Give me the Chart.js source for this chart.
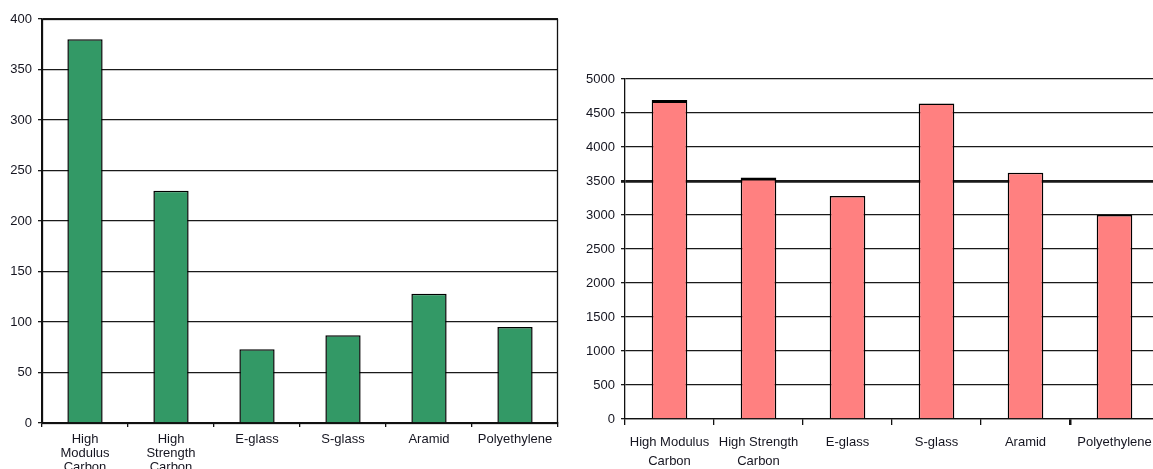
<!DOCTYPE html>
<html>
<head>
<meta charset="utf-8">
<script src="https://cdn.jsdelivr.net/npm/chart.js@4.4.0/dist/chart.umd.min.js"></script>
<style>
  html, body { margin: 0; padding: 0; background: #fff; overflow: hidden; width: 1153px; height: 469px; }
  .box { position: absolute; top: 0; }
  #leftBox { left: 0; width: 560px; height: 469px; }
  #rightBox { left: 570px; width: 590px; height: 469px; }
</style>
</head>
<body>
<div class="box" id="leftBox"><canvas id="modulusChart" width="560" height="469"></canvas></div>
<div class="box" id="rightBox"><canvas id="strengthChart" width="590" height="469"></canvas></div>
<script>
// Fibre types and their properties
const modulusCategories = [
  ['High', 'Modulus', 'Carbon'],
  ['High', 'Strength', 'Carbon'],
  'E-glass',
  'S-glass',
  'Aramid',
  'Polyethylene'
];
const strengthCategories = [
  ['High Modulus', 'Carbon'],
  ['High Strength', 'Carbon'],
  'E-glass',
  'S-glass',
  'Aramid',
  'Polyethylene'
];
// Tensile modulus (GPa)
const modulusValues = [380, 230, 73, 87, 128, 95];
// Tensile strength (MPa)
const strengthValues = [4690, 3550, 3280, 4640, 3620, 3000];

const modulusAxis = { min: 0, max: 400, step: 50 };
const strengthAxis = { min: 0, max: 5000, step: 500 };

const FONT = 'Liberation Sans, Arial, sans-serif';
const GRID = '#1a1a1a';
const INK = '#111';

// Frame drawn round the plot area
const frame = {
  id: 'frame',
  afterDraw(chart, args, opts) {
    if (!opts.draw) return;
    const a = chart.chartArea, c = chart.ctx;
    c.save();
    c.strokeStyle = INK;
    c.lineWidth = 1.3;
    c.strokeRect(a.left + 0.5, a.top + 0.5, a.right - a.left - 1, a.bottom - a.top);
    c.restore();
  }
};

function makeChart(id, labels, values, axis, color, cfg) {
  return new Chart(document.getElementById(id), {
    type: 'bar',
    data: {
      labels: labels,
      datasets: [{
        data: values,
        backgroundColor: color,
        borderColor: '#000',
        borderWidth: cfg.borderWidth,
        borderSkipped: 'start',
        categoryPercentage: 1,
        barPercentage: cfg.barPct
      }]
    },
    options: {
      responsive: false,
      animation: false,
      devicePixelRatio: 1,
      layout: { padding: { top: cfg.top, right: cfg.right, left: 0, bottom: 0 } },
      plugins: { legend: { display: false }, tooltip: { enabled: false }, frame: { draw: cfg.frame } },
      scales: {
        x: {
          afterFit(s) { s.height = cfg.xHeight; },
          border: { color: INK, width: 1.3 },
          grid: { offset: true, drawOnChartArea: false, drawTicks: true, tickLength: cfg.xTick, color: INK,
                  lineWidth: cfg.xTickWidth },
          ticks: {
            autoSkip: false, maxRotation: 0, minRotation: 0, padding: cfg.xPad,
            color: '#151520',
            font: { family: FONT, size: 13, lineHeight: cfg.lineHeight }
          }
        },
        y: {
          min: axis.min, max: axis.max,
          afterFit(s) { s.width = cfg.yWidth; },
          border: { color: INK, width: 1.3 },
          grid: { color: GRID, lineWidth: cfg.gridWidth, tickLength: 4, drawTicks: true },
          ticks: {
            stepSize: axis.step, padding: 6, color: '#151520',
            font: { family: FONT, size: 13 },
            callback: (v) => String(v)
          }
        }
      }
    },
    plugins: [frame]
  });
}

makeChart('modulusChart', modulusCategories, modulusValues, modulusAxis, '#339966', {
  top: 19, right: 2, xHeight: 46, yWidth: 42, xTick: 4, xPad: 5, lineHeight: 1.08,
  barPct: 0.41, borderWidth: 1.5, gridWidth: 1.3, frame: true, xTickWidth: 1.3
});

makeChart('strengthChart', strengthCategories, strengthValues, strengthAxis, '#ff8080', {
  top: 79, right: 1, xHeight: 50, yWidth: 55, xTick: 6, xPad: 8, lineHeight: 1.45,
  barPct: 0.4,
  borderWidth: (ctx) => ctx.dataIndex < 2 ? { top: 3, left: 1.5, right: 1.5, bottom: 0 } : 1.5,
  gridWidth: (ctx) => (ctx.tick && ctx.tick.value === 3500) ? 2.8 : 1.3,
  frame: false,
  xTickWidth: (ctx) => ctx.index === 5 ? 2.5 : 1.3
});
</script>
</body>
</html>
